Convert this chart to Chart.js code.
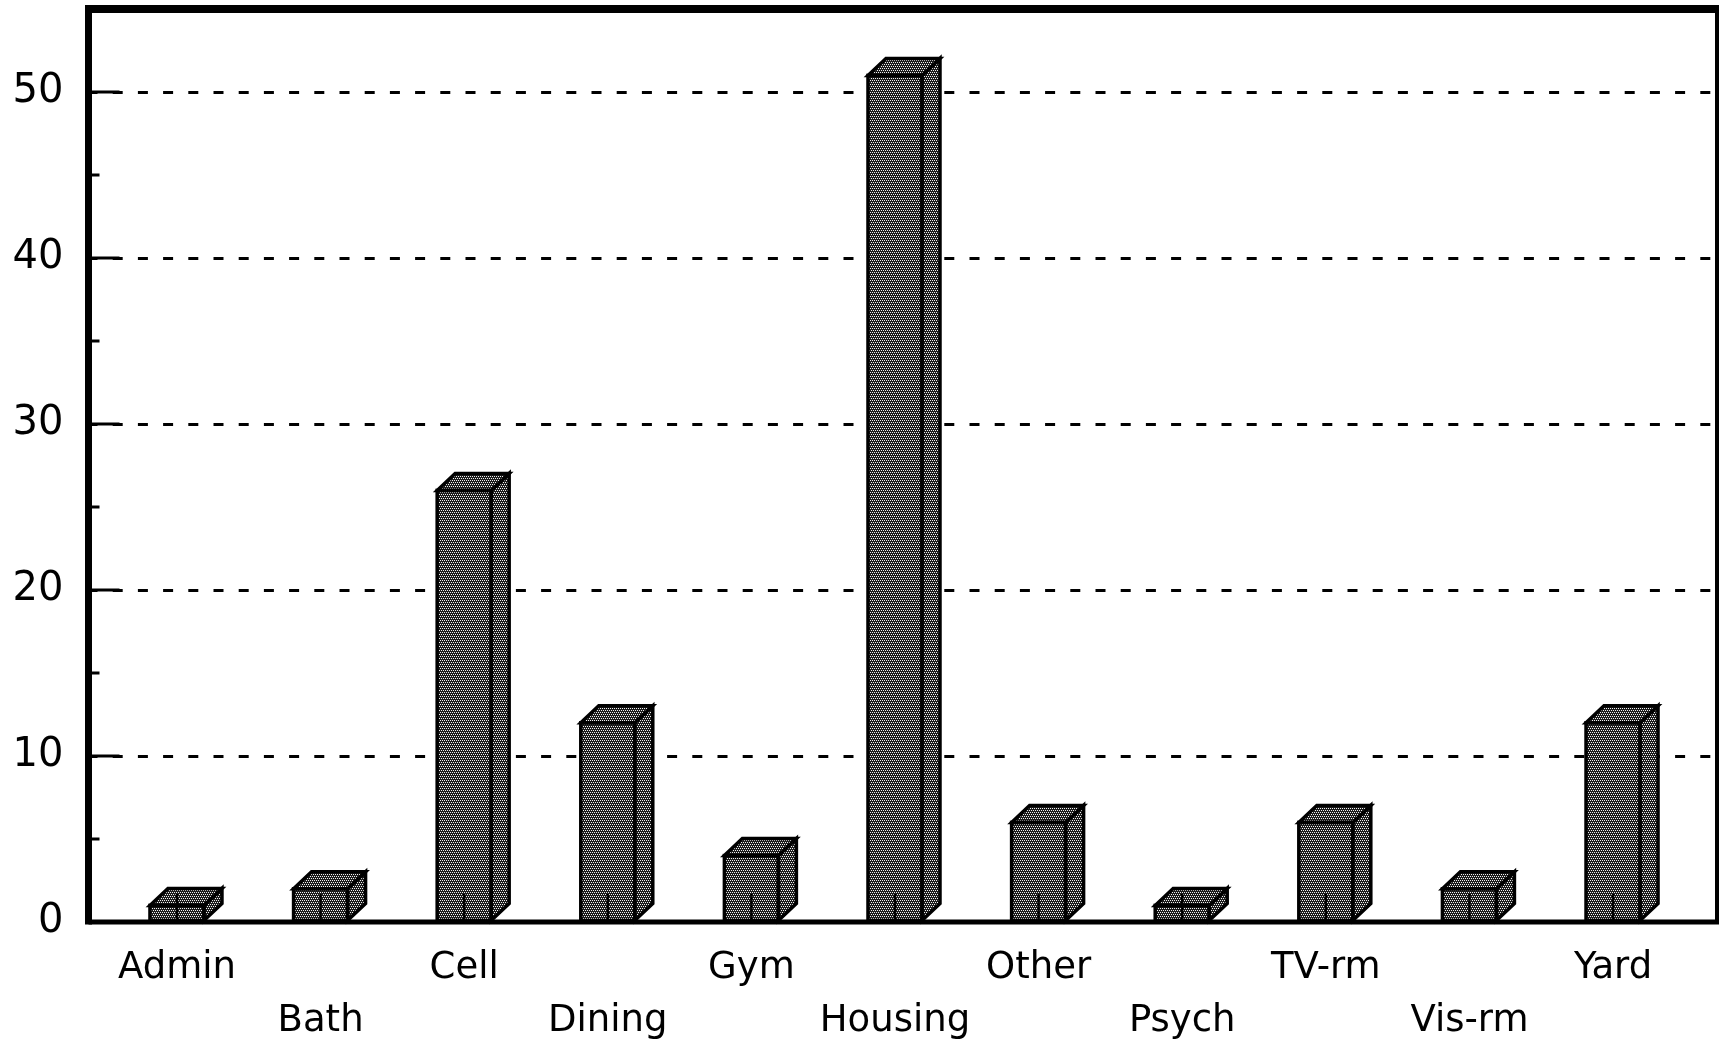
<!DOCTYPE html>
<html>
<head>
<meta charset="utf-8">
<title>Incidents by location</title>
<script src="https://cdn.jsdelivr.net/npm/chart.js@4.4.1/dist/chart.umd.min.js"></script>
<style>
  html, body { margin: 0; padding: 0; background: #fff; }
  #wrap { width: 1720px; height: 1046px; }
</style>
</head>
<body>
<div id="wrap"><canvas id="locationChart"></canvas></div>
<script>
// Incident counts by location
const locations = ['Admin', 'Bath', 'Cell', 'Dining', 'Gym', 'Housing', 'Other', 'Psych', 'TV-rm', 'Vis-rm', 'Yard'];
const counts = [1, 2, 26, 12, 4, 51, 6, 1, 6, 2, 12];

// Value axis: labelled every 10, minor marks every 5
const yMax = 55;
const yStep = 5;
const yLabelled = [0, 10, 20, 30, 40, 50];

// Depth of the extruded boxes, in pixels
const DEPTH_X = 18;
const DEPTH_Y = 17;

// Dithered grey used on every face of the boxes
function makeHalftone() {
    const tile = document.createElement('canvas');
    tile.width = 4;
    tile.height = 4;
    const g = tile.getContext('2d');
    g.fillStyle = '#1c1c1c';
    g.fillRect(0, 0, 4, 4);
    g.fillStyle = '#f0f0f0';
    [[0, 0], [2, 0], [1, 2], [3, 2]].forEach(([x, y]) => g.fillRect(x, y, 1, 1));
    return g.createPattern(tile, 'repeat');
}
const halftone = makeHalftone();

// Scales keep no extra padding so the plot area sits where the layout puts it
function noPadding(scale) {
    scale.paddingTop = 0;
    scale.paddingBottom = 0;
    scale.paddingLeft = 0;
    scale.paddingRight = 0;
}

// Draws the top and side faces, the frame and the inner tick marks
const boxPlugin = {
    id: 'box3d',
    afterDatasetsDraw(chart) {
        const ctx = chart.ctx;
        const meta = chart.getDatasetMeta(0);
        ctx.save();
        ctx.fillStyle = halftone;
        ctx.strokeStyle = '#000';
        ctx.lineWidth = 3.5;
        ctx.lineJoin = 'miter';
        meta.data.forEach(bar => {
            const left = bar.x - bar.width / 2;
            const right = bar.x + bar.width / 2;
            const top = bar.y;
            const base = bar.base;

            // side face
            ctx.beginPath();
            ctx.moveTo(right, top);
            ctx.lineTo(right + DEPTH_X, top - DEPTH_Y);
            ctx.lineTo(right + DEPTH_X, base - DEPTH_Y);
            ctx.lineTo(right, base);
            ctx.closePath();
            ctx.fill();
            ctx.stroke();

            // top face
            ctx.beginPath();
            ctx.moveTo(left, top);
            ctx.lineTo(left + DEPTH_X, top - DEPTH_Y);
            ctx.lineTo(right + DEPTH_X, top - DEPTH_Y);
            ctx.lineTo(right, top);
            ctx.closePath();
            ctx.fill();
            ctx.stroke();

            // front outline
            ctx.strokeRect(left, top, right - left, base - top);
        });
        ctx.restore();
    },
    afterDraw(chart) {
        const ctx = chart.ctx;
        const area = chart.chartArea;
        const xScale = chart.scales.x;
        const yScale = chart.scales.y;
        ctx.save();
        ctx.strokeStyle = '#000';
        ctx.lineCap = 'butt';

        // inner ticks on the value axis
        ctx.lineWidth = 3;
        yScale.ticks.forEach(t => {
            if (t.value <= 0 || t.value >= yMax) return;
            const len = t.value % 10 === 0 ? 31 : 11;
            const y = yScale.getPixelForValue(t.value);
            ctx.beginPath();
            ctx.moveTo(area.left, y);
            ctx.lineTo(area.left + len, y);
            ctx.stroke();
        });

        // inner ticks at each location
        ctx.lineWidth = 2.5;
        locations.forEach((_, i) => {
            const x = xScale.getPixelForValue(i);
            ctx.beginPath();
            ctx.moveTo(x, area.bottom);
            ctx.lineTo(x, area.bottom - 28);
            ctx.stroke();
        });

        // frame
        ctx.lineWidth = 8;
        ctx.beginPath();
        ctx.moveTo(area.left - 3.5, area.top);
        ctx.lineTo(area.right + 2, area.top);
        ctx.stroke();
        ctx.lineWidth = 4;
        ctx.beginPath();
        ctx.moveTo(area.right, area.top);
        ctx.lineTo(area.right, area.bottom);
        ctx.stroke();
        ctx.lineWidth = 5;
        ctx.beginPath();
        ctx.moveTo(area.left, area.bottom);
        ctx.lineTo(area.right + 2, area.bottom);
        ctx.stroke();
        ctx.lineWidth = 7;
        ctx.beginPath();
        ctx.moveTo(area.left, area.top - 4);
        ctx.lineTo(area.left, area.bottom + 2.5);
        ctx.stroke();
        ctx.restore();
    }
};

const canvas = document.getElementById('locationChart');
new Chart(canvas, {
    type: 'bar',
    data: {
        datasets: [{
            label: 'Incidents',
            data: counts.map((v, i) => ({ x: i, y: v })),
            backgroundColor: halftone,
            borderWidth: 0,
            barThickness: 54
        }]
    },
    options: {
        responsive: true,
        maintainAspectRatio: false,
        animation: false,
        devicePixelRatio: 1,
        layout: { padding: { top: 9, right: 3, left: 0, bottom: 0 } },
        plugins: {
            legend: { display: false },
            tooltip: { enabled: false }
        },
        scales: {
            x: {
                type: 'linear',
                offset: false,
                min: -0.616,
                max: 10.724,
                afterBuildTicks: axis => {
                    axis.ticks = locations.map((_, i) => ({ value: i }));
                },
                afterFit: scale => { scale.height = 124; noPadding(scale); },
                grid: { display: false, drawTicks: false, offset: false },
                border: { display: false },
                ticks: {
                    autoSkip: false,
                    maxRotation: 0,
                    padding: 20,
                    color: '#000',
                    font: { family: 'DejaVu Sans', size: 37, lineHeight: 1.43 },
                    callback: value => {
                        const name = locations[value];
                        return value % 2 ? ['', name] : [name];
                    }
                }
            },
            y: {
                min: 0,
                max: yMax,
                afterFit: scale => { scale.width = 88.5; noPadding(scale); },
                grid: {
                    drawTicks: false,
                    lineWidth: 3,
                    color: ctx => {
                        const v = ctx.tick ? ctx.tick.value : 0;
                        return yLabelled.includes(v) && v > 0 ? '#000' : 'rgba(0,0,0,0)';
                    }
                },
                border: { display: false, dash: [10, 15.2], dashOffset: 1.5 },
                ticks: {
                    stepSize: yStep,
                    padding: 25,
                    color: '#000',
                    font: { family: 'DejaVu Sans', size: 40 },
                    callback: value => yLabelled.includes(value) ? String(value) : ''
                }
            }
        }
    },
    plugins: [boxPlugin]
});
</script>
</body>
</html>
